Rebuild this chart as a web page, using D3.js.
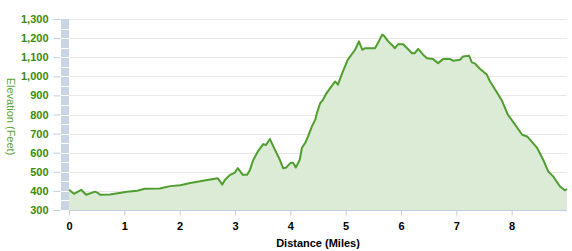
<!DOCTYPE html>
<html>
<head>
<meta charset="utf-8">
<script src="https://cdn.jsdelivr.net/npm/d3@7"></script>
<style>
  body { margin: 0; background: #fff; }
  text { font-family: "Liberation Sans", Arial, sans-serif; }
</style>
</head>
<body>
<div id="chart"></div>
<script>
// distance in miles, elevation in feet
const distance = [0, 0.09, 0.22, 0.31, 0.47, 0.52, 0.56, 0.74, 1.05, 1.23, 1.37, 1.64, 1.83, 2.01, 2.19, 2.42, 2.69, 2.77, 2.82, 2.91, 2.96, 3.0, 3.05, 3.14, 3.22, 3.27, 3.33, 3.42, 3.51, 3.56, 3.63, 3.72, 3.81, 3.87, 3.92, 4.01, 4.05, 4.1, 4.17, 4.21, 4.27, 4.32, 4.39, 4.45, 4.48, 4.54, 4.59, 4.64, 4.72, 4.81, 4.86, 4.95, 5.04, 5.17, 5.24, 5.3, 5.35, 5.53, 5.6, 5.66, 5.69, 5.77, 5.86, 5.89, 5.95, 6.04, 6.2, 6.25, 6.31, 6.4, 6.47, 6.58, 6.67, 6.76, 6.89, 6.94, 7.07, 7.12, 7.23, 7.28, 7.34, 7.43, 7.55, 7.61, 7.74, 7.83, 7.93, 8.02, 8.19, 8.28, 8.46, 8.57, 8.66, 8.75, 8.87, 8.91, 8.96, 9.0]
const elevation = [406, 385, 406, 380, 396, 390, 380, 381, 396, 401, 411, 413, 425, 430, 441, 453, 466, 433, 458, 484, 490, 496, 519, 484, 484, 510, 562, 610, 645, 640, 672, 616, 563, 519, 521, 548, 548, 523, 563, 626, 652, 685, 738, 773, 807, 860, 877, 905, 938, 973, 956, 1026, 1087, 1139, 1183, 1139, 1147, 1147, 1183, 1218, 1213, 1183, 1157, 1147, 1168, 1168, 1121, 1121, 1144, 1113, 1095, 1090, 1069, 1090, 1090, 1082, 1087, 1104, 1108, 1073, 1066, 1038, 1009, 973, 913, 869, 799, 764, 694, 685, 625, 563, 502, 476, 424, 415, 403, 410]
const yTicks = [300, 400, 500, 600, 700, 800, 900, 1000, 1100, 1200, 1300]
const xTicks = [0, 1, 2, 3, 4, 5, 6, 7, 8]

const W = 572, H = 251
const M = {left: 69, right: 5, top: 19, bottom: 41}

const svg = d3.select("#chart").append("svg")
  .attr("width", W).attr("height", H)

const x = d3.scaleLinear().domain([0, 9]).range([M.left, W - M.right])
const y = d3.scaleLinear().domain([300, 1300]).range([H - M.bottom, M.top])

const data = distance.map((d, i) => ({d: d, e: elevation[i]}))

// gridlines
svg.append("g")
  .selectAll("line").data(yTicks).join("line")
  .attr("x1", x(0)).attr("x2", x(9))
  .attr("y1", d => Math.round(y(d)) + 0.5).attr("y2", d => Math.round(y(d)) + 0.5)
  .attr("stroke", "#e8e8e8")

// striped bar on the left
svg.append("rect")
  .attr("x", 61).attr("y", y(1300))
  .attr("width", 8).attr("height", y(300) - y(1300))
  .attr("fill", "#c9d5e3")
svg.append("g")
  .selectAll("line").data(d3.range(350, 1300, 50)).join("line")
  .attr("x1", 61).attr("x2", 69)
  .attr("y1", d => Math.round(y(d)) + 0.5).attr("y2", d => Math.round(y(d)) + 0.5)
  .attr("stroke", "#fff")

// area + line
svg.append("path").datum(data)
  .attr("fill", "#dcebd5")
  .attr("d", d3.area().x(d => x(d.d)).y0(y(300)).y1(d => y(d.e)))

svg.append("path").datum(data)
  .attr("fill", "none")
  .attr("stroke", "#4f9e2f")
  .attr("stroke-width", 2)
  .attr("stroke-linejoin", "round")
  .attr("d", d3.line().x(d => x(d.d)).y(d => y(d.e)))

// y axis
const yAxis = svg.append("g")
  .attr("transform", "translate(60.5,0)")
  .call(d3.axisLeft(y).tickValues(yTicks).tickFormat(d3.format(",")).tickSize(7).tickPadding(5))
yAxis.select(".domain").remove()
yAxis.selectAll(".tick line").attr("stroke", "#c0cfdf")
yAxis.selectAll("text")
  .attr("fill", "#3a8c0a")
  .style("font-size", "11px")
  .style("font-weight", "bold")

// x axis
const xAxis = svg.append("g")
  .attr("transform", `translate(0,${Math.round(y(300)) + 0.5})`)
  .call(d3.axisBottom(x).tickValues(xTicks).tickSize(5).tickPadding(7))
xAxis.select(".domain").attr("stroke", "#c0cfdf").attr("d", `M${x(0)},0H${x(9)}`)
xAxis.selectAll(".tick line").attr("stroke", "#c0cfdf")
xAxis.selectAll("text")
  .attr("fill", "#000")
  .style("font-size", "11px")
  .style("font-weight", "bold")

// titles
svg.append("text")
  .text("Distance (Miles)")
  .attr("x", (x(0) + x(9)) / 2).attr("y", 247)
  .attr("text-anchor", "middle")
  .attr("fill", "#000")
  .style("font-size", "11px")
  .style("font-weight", "bold")

svg.append("text")
  .text("Elevation (Feet)")
  .attr("transform", `translate(7,${(y(300) + y(1300)) / 2 + 2}) rotate(90)`)
  .attr("text-anchor", "middle")
  .attr("fill", "#5aa532")
  .style("font-size", "11px")
</script>
</body>
</html>
